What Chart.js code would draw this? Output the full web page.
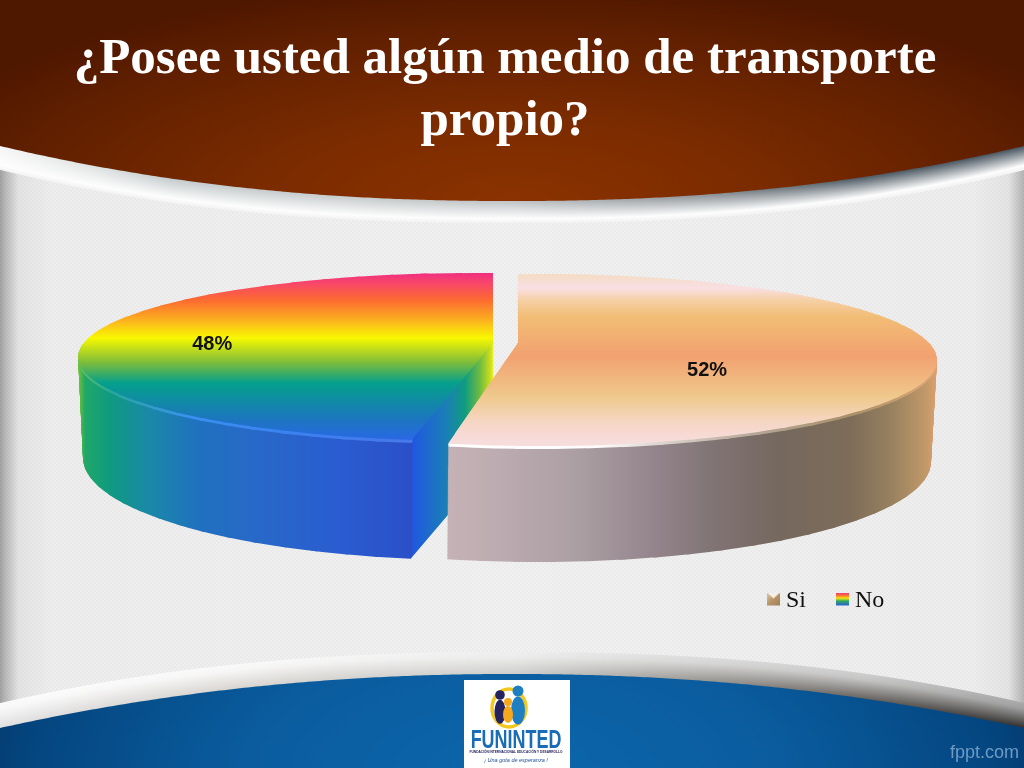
<!DOCTYPE html>
<html lang="es"><head><meta charset="utf-8">
<style>html,body{margin:0;padding:0;background:#eee;overflow:hidden}#c{display:block}</style>
<script src="https://cdn.jsdelivr.net/npm/chart.js@4"></script>
</head><body><canvas id="c" width="1024" height="768" style="width:1024px;height:768px"></canvas>
<script>
const categories = ['Si', 'No'];
const seriesValues = [52, 48];
const titleLines = ['¿Posee usted algún medio de transporte', 'propio?'];

/* --- styling helpers --- */
const hex = h => [1,3,5].map(i => parseInt(h.substr(i,2),16));
const rgb = a => `rgb(${a.map(v=>Math.round(v)).join(',')})`;
const mix = (a,b,t) => a.map((v,i)=>v+(b[i]-v)*t);
function ramp(stops, x){
  if (x<=stops[0][0]) return hex(stops[0][1]);
  for (let i=1;i<stops.length;i++) if (x<=stops[i][0]){
    const t=(x-stops[i-1][0])/(stops[i][0]-stops[i-1][0]);
    return mix(hex(stops[i-1][1]),hex(stops[i][1]),t);
  }
  return hex(stops[stops.length-1][1]);
}
const cutAngle = 360*seriesValues[0]/(seriesValues[0]+seriesValues[1]);
/* look of each slice: colour ramps and the perspective of its disc
   (apex C/Cb, rim ellipse e/eb [cx,cy,rx,ry], rim parameter range psi, extruded part front) */
const sliceLook = [
 {top:[[273,'#f4dcc0'],[288,'#f9dfe3'],[300,'#f6d0a6'],[317,'#f2bd75'],[356,'#f2a170'],[397,'#efc98c'],[420,'#f5d5c0'],[441,'#f7dcdc'],[450,'#f7dcdc']],
  side:[[448,'#c4b2b6'],[500,'#bcabb0'],[580,'#ab9ea3'],[660,'#918389'],[720,'#7f7272'],[780,'#75685e'],[850,'#7d6c58'],[890,'#96805f'],[925,'#c09868'],[938,'#e0a070']],
  rim:[[448,'#ffffff'],[600,'#fdfbfb'],[660,'#dcd4ce'],[760,'#b4a594'],[850,'#a89068'],[938,'#e0a878']],
  C:[518,343],Cb:[518,461],e:[540,360,397,86],eb:[538,462,393,100],
  A:[0,cutAngle],psi:[-93.2,103.4],front:[-12,104]},
 {top:[[273,'#ef2e80'],[283,'#f8466a'],[300,'#fc6a30'],[320,'#fcb020'],[338,'#f8f800'],[363,'#7bbb3c'],[383,'#05a08c'],[420,'#1c75c0'],[441,'#2a68e8'],[450,'#2a68e8']],
  side:[[79,'#6cbf3c'],[85,'#20a868'],[110,'#0f9a80'],[150,'#1a88a8'],[200,'#2070c0'],[260,'#2868c8'],[340,'#2a5cd0'],[412,'#2a50c8'],[413,'#2058e0'],[447,'#1a80b5'],[465,'#0f9c80'],[480,'#70bc40'],[490,'#c8dc20'],[493,'#e8f000']],
  rim:[[79,'#60c060'],[110,'#28a89a'],[190,'#3a90f0'],[300,'#3c80f0'],[412,'#4878e8'],[413,'#2058e0'],[447,'#1a80b5'],[465,'#0f9c80'],[480,'#70bc40'],[490,'#c8dc20'],[493,'#e8f000']],
  C:[493,343],Cb:[493,462],e:[475,357,397,84],eb:[473,458,390,102],
  A:[cutAngle,360],psi:[99.2,272.6],front:[99,192]}
];
const labelPlace = [{f:0.453,dy:16},{f:0.68,dy:-2}];

function buildTilt(l,step){
  const rows=[],n=Math.ceil((l.A[1]-l.A[0])/step);
  for(let j=0;j<=n;j++){
    const A=l.A[0]+(l.A[1]-l.A[0])*j/n,psi=l.psi[0]+(l.psi[1]-l.psi[0])*j/n,r=psi*Math.PI/180;
    const on=(e,c)=>[e[0]+e[2]*Math.cos(r)-c[0],e[1]+e[3]*Math.sin(r)-c[1]];
    const row=[A,on(l.e,l.C)];
    if(psi>=l.front[0]&&psi<=l.front[1]) row[2]=on(l.eb,l.Cb);
    rows.push(row);
  }
  return rows;
}
sliceLook.forEach(l=>{l.tilt=buildTilt(l,5);l.coarse=buildTilt(l,30);});

function legendIcon(kind){
  const c=document.createElement('canvas');c.width=13;c.height=17;const g=c.getContext('2d');
  const gr=g.createLinearGradient(0,0,kind?0:13,13);
  if(kind){[[0,'#f03080'],[.25,'#fb7a30'],[.45,'#f5ee10'],[.65,'#30a860'],[1,'#2a60d8']].forEach(s=>gr.addColorStop(s[0],s[1]));}
  else{[[0,'#e0c8a8'],[.5,'#b89468'],[1,'#a08058']].forEach(s=>gr.addColorStop(s[0],s[1]));}
  g.fillStyle=gr;g.fillRect(0,0,13,13);
  if(!kind){g.fillStyle='#f6f0ea';g.beginPath();g.moveTo(0,0);g.lineTo(13,0);g.lineTo(6.5,6);g.closePath();g.fill();}
  return c;
}

/* --- slide backdrop --- */
function backdrop(ctx){
  const W=1024,H=768;
  const p=ctx.createLinearGradient(0,0,W,0);
  [[0,'#a2a2a2'],[.006,'#bcbcbc'],[.018,'#e4e4e4'],[.05,'#eeeeee'],[.5,'#f1f1f1'],[.95,'#eeeeee'],[.985,'#e4e4e4'],[1,'#b4b4b4']].forEach(s=>p.addColorStop(s[0],s[1]));
  ctx.fillStyle=p;ctx.fillRect(0,0,W,H);
  const t=document.createElement('canvas');t.width=t.height=4;const tg=t.getContext('2d');
  tg.fillStyle='rgba(0,0,0,0.022)';tg.fillRect(0,0,2,2);tg.fillRect(2,2,2,2);
  ctx.fillStyle=ctx.createPattern(t,'repeat');ctx.fillRect(0,0,W,H);

  const u=x=>Math.abs(x-512)/512;
  const y1=x=>201-55*Math.pow(u(x),2.2), y2=x=>223-53*Math.pow(u(x),2.4);
  const y3=x=>652+51*Math.pow(u(x),2.3), y4=x=>674+54*Math.pow(u(x),2.1);
  const bandTop=[[0,'#f5f5f5'],[100,'#dde0e0'],[170,'#c4cacc'],[340,'#c8cccd'],[512,'#c0c4c6'],[700,'#8e9498'],[860,'#4e5a64'],[1024,'#4a5660']];
  const botTop=[[0,'#fbfbfb'],[230,'#fafafa'],[512,'#efefef'],[700,'#dddddd'],[860,'#cfcfcf'],[1024,'#aaaaaa']];
  const botLow=[[0,'#e0e0e0'],[230,'#d8d4d0'],[512,'#cfcfcc'],[700,'#9b9894'],[860,'#6a6662'],[1024,'#333231']];
  for(let x=0;x<W;x++){
    let g=ctx.createLinearGradient(0,y1(x),0,y2(x));
    g.addColorStop(0,rgb(ramp(bandTop,x)));g.addColorStop(.8,'#fdfdfd');g.addColorStop(1,'#f2f2f2');
    ctx.fillStyle=g;ctx.fillRect(x,y1(x)-1,1,y2(x)-y1(x)+1);
    g=ctx.createLinearGradient(0,y3(x),0,y4(x));
    g.addColorStop(0,rgb(ramp(botTop,x)));g.addColorStop(.25,rgb(mix(ramp(botTop,x),ramp(botLow,x),.1)));g.addColorStop(1,rgb(ramp(botLow,x)));
    ctx.fillStyle=g;ctx.fillRect(x,y3(x),1,y4(x)-y3(x)+1);
  }
  const poly=(fn,edge)=>{ctx.beginPath();ctx.moveTo(0,edge);for(let x=0;x<=W;x+=4)ctx.lineTo(x,fn(x));ctx.lineTo(W,edge);ctx.closePath();};
  ctx.save();poly(y1,0);ctx.clip();ctx.translate(512,200);ctx.scale(1,.34);
  let r=ctx.createRadialGradient(0,0,0,0,0,640);
  [[0,'#8b3200'],[.4,'#7a2b00'],[.8,'#5f1f00'],[1,'#4e1700']].forEach(s=>r.addColorStop(s[0],s[1]));
  ctx.fillStyle=r;ctx.fillRect(-600,-700,1200,1400);ctx.restore();
  ctx.save();poly(y4,H);ctx.clip();ctx.translate(512,775);ctx.scale(1,.5);
  r=ctx.createRadialGradient(0,0,0,0,0,600);
  [[0,'#0c66ac'],[.45,'#0a5c9e'],[.8,'#044680'],[1,'#042f5c']].forEach(s=>r.addColorStop(s[0],s[1]));
  ctx.fillStyle=r;ctx.fillRect(-600,-400,1200,800);ctx.restore();

  ctx.fillStyle='#6e9ac4';ctx.font='18px "Liberation Sans"';ctx.textAlign='right';ctx.textBaseline='middle';
  ctx.fillText('fppt.com',1019,753);

  /* logo */
  ctx.fillStyle='#ffffff';ctx.fillRect(464,680,106,88);
  ctx.lineWidth=3.5;ctx.strokeStyle='#f2c81e';ctx.beginPath();ctx.ellipse(509,708,17,19,0,0,Math.PI*2);ctx.stroke();
  const person=(x,y,hr,bw,bh,col)=>{ctx.fillStyle=col;ctx.beginPath();ctx.arc(x,y,hr,0,7);ctx.fill();
    ctx.beginPath();ctx.ellipse(x,y+hr+bh/2,bw,bh/2,0,0,7);ctx.fill();};
  person(500,695,4.8,5.5,24,'#25235f');
  person(518,691,5.5,7,28,'#1d7fc1');
  person(508,702,4,5,17,'#f5a81c');
  ctx.fillStyle='#1a6db4';ctx.font='bold 26px "Liberation Sans"';ctx.textAlign='center';ctx.textBaseline='alphabetic';
  ctx.save();ctx.translate(516,748);ctx.scale(.69,1);ctx.fillText('FUNINTED',0,0);ctx.restore();
  ctx.fillStyle='#23235f';ctx.font='bold 3.2px "Liberation Sans"';ctx.fillText('FUNDACIÓN INTERNACIONAL EDUCACIÓN Y DESARROLLO',516,753);
  ctx.fillStyle='#1a4f95';ctx.font='italic 5.5px "Liberation Sans"';ctx.fillText('¡ Una gota de esperanza !',516,762);
}

/* --- tilted pie drawn from Chart.js arc elements --- */
const fakeOpts=bg=>({backgroundColor:bg,borderColor:'transparent',borderWidth:0,offset:0,spacing:0,circular:true,borderAlign:'center',borderJoinStyle:'round',borderRadius:0,selfJoin:false,borderDash:[],borderDashOffset:0,hoverOffset:0});
const dir=A=>{const r=A*Math.PI/180;return [Math.sin(r),-Math.cos(r)];};
function wedgeMatrix(k1,k2,t){
  const v=k=>{const a=k[1],b=k[2]||a;return [a[0]+(b[0]-a[0])*t,a[1]+(b[1]-a[1])*t];};
  const u1=dir(k1[0]),u2=dir(k2[0]),v1=v(k1),v2=v(k2);
  const det=u1[0]*u2[1]-u2[0]*u1[1];
  const i=[u2[1]/det,-u2[0]/det,-u1[1]/det,u1[0]/det];
  return {a:v1[0]*i[0]+v2[0]*i[2],c:v1[0]*i[1]+v2[0]*i[3],b:v1[1]*i[0]+v2[1]*i[2],d:v1[1]*i[1]+v2[1]*i[3]};
}
function paint(ctx,el,look,k1,k2,t,kind,stops,shrink=1,dl=0.5){
  const Rr=el.outerRadius,px=el.x,py=el.y;
  const M=wedgeMatrix(k1,k2,t);
  const C=[look.C[0]+(look.Cb[0]-look.C[0])*t,look.C[1]+(look.Cb[1]-look.C[1])*t];
  const a=M.a/Rr*shrink,b=M.b/Rr*shrink,c=M.c/Rr*shrink,d=M.d/Rr*shrink;
  ctx.save();
  ctx.transform(a,b,c,d,C[0]-a*px-c*py,C[1]-b*px-d*py);
  const p1=dir(k1[0]-dl),p2=dir(k2[0]+dl),mid=dir((k1[0]+k2[0])/2);
  ctx.beginPath();
  ctx.moveTo(px-mid[0]*3,py-mid[1]*3);
  const N=1.6*Rr;
  ctx.lineTo(px+p1[0]*N,py+p1[1]*N);ctx.lineTo(px+mid[0]*N,py+mid[1]*N);ctx.lineTo(px+p2[0]*N,py+p2[1]*N);
  ctx.closePath();ctx.clip();
  const axis=kind==='y'?[b,d]:[a,c],o=kind==='y'?C[1]:C[0],n=axis[0]*axis[0]+axis[1]*axis[1];
  const s0=stops[0][0],s1=stops[stops.length-1][0];
  const pt=s=>[px+(s-o)*axis[0]/n,py+(s-o)*axis[1]/n];
  const A=pt(s0),B=pt(s1);
  const g=ctx.createLinearGradient(A[0],A[1],B[0],B[1]);
  stops.forEach(s=>g.addColorStop((s[0]-s0)/(s1-s0),s[1]));
  const keep=el.options;el.options=fakeOpts(g);el.draw(ctx);el.options=keep;
  ctx.restore();
}
const tiltPlugin={id:'tilt',
  beforeDraw(chart){backdrop(chart.ctx);},
  afterLayout(chart){
    const l=chart.legend;const w=l.right-l.left;l.left=737;l.right=737+w;l.top=553;l.bottom=l.top+l.height;
    const t=chart.titleBlock;t.left-=7;t.right-=7;
  },
  beforeDatasetsDraw(chart){
    const ctx=chart.ctx,arcs=chart.getDatasetMeta(0).data;
    for(let i=arcs.length-1;i>=0;i--){
      const el=arcs[i],look=sliceLook[i],K=look.tilt,G=look.coarse;
      const depth=Math.round(look.Cb[1]-look.C[1]);
      for(let s=depth;s>=1;s--){
        for(let w=0;w<K.length-1;w++){
          if(K[w][2]&&K[w+1][2]) paint(ctx,el,look,K[w],K[w+1],s/depth,'x',s<=3?look.rim:look.side);
        }
      }
      /* under-paint so that the fan of thin wedges leaves no hairlines near the apex */
      for(let w=0;w<G.length-1;w++) paint(ctx,el,look,G[w],G[w+1],0,'y',look.top,0.9,2);
      for(let w=0;w<K.length-1;w++) paint(ctx,el,look,K[w],K[w+1],0,'y',look.top);
    }
    ctx.save();
    ctx.fillStyle='#111';ctx.font='bold 20px "Liberation Sans"';ctx.textAlign='center';ctx.textBaseline='middle';
    arcs.forEach((el,i)=>{
      const look=sliceLook[i],lp=labelPlace[i],K=look.tilt;
      const A=((el.startAngle+el.endAngle)/2+Math.PI/2)*180/Math.PI;
      let w=0;while(w<K.length-2&&A>K[w+1][0])w++;
      const M=wedgeMatrix(K[w],K[w+1],0),u=dir(A);
      const x=look.C[0]+lp.f*(M.a*u[0]+M.c*u[1]),y=look.C[1]+lp.f*(M.b*u[0]+M.d*u[1])+lp.dy;
      ctx.fillText(seriesValues[i]+'%',x,y);
    });
    ctx.restore();
    return false;
  }
};

new Chart(document.getElementById('c'),{
  type:'pie',
  data:{labels:categories,datasets:[{data:seriesValues,backgroundColor:['#f2a170','#2a68e8'],borderWidth:0}]},
  options:{
    responsive:false,animation:false,devicePixelRatio:1,
    plugins:{
      tooltip:{enabled:false},
      title:{display:true,text:titleLines,color:'#ffffff',font:{family:'"Liberation Serif"',size:51,weight:'bold',lineHeight:1.216},padding:{top:29,bottom:10}},
      legend:{display:true,position:'bottom',align:'start',
        labels:{usePointStyle:true,boxWidth:1,boxHeight:12,padding:36,color:'#111',font:{family:'"Liberation Serif"',size:24},
          generateLabels(){return categories.map((c,i)=>({text:c,pointStyle:legendIcon(i),fillStyle:'#000',strokeStyle:'transparent',lineWidth:0,hidden:false,index:i,fontColor:'#111'}));}}}
    }
  },
  plugins:[tiltPlugin]
});
</script></body></html>
